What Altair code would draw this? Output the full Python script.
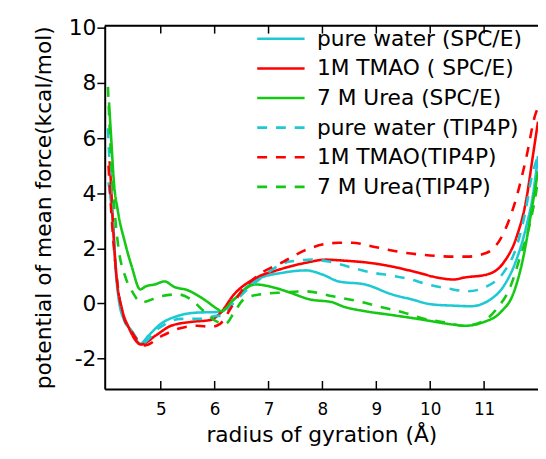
import altair as alt
import pandas as pd

series_names = [
    "pure water (SPC/E)",
    "1M TMAO ( SPC/E)",
    "7 M Urea (SPC/E)",
    "pure water (TIP4P)",
    "1M TMAO(TIP4P)",
    "7 M Urea(TIP4P)",
]
series_colors = ["#1FC9D3", "#FF0000", "#14C814", "#1FC9D3", "#FF0000", "#14C814"]
series_dashes = [[1, 0], [1, 0], [1, 0], [10, 9], [10, 9], [10, 9]]

# pure water (SPC/E)
pw_spce_x = [4.03, 4.07, 4.10, 4.13, 4.16, 4.22, 4.31, 4.46, 4.62, 4.77, 5.0, 5.32, 5.68, 6.05, 6.12,
             6.36, 6.78, 7.28, 7.7, 8.0, 8.3, 8.79, 9.29, 9.65, 10.02, 10.44, 10.75, 11.12, 11.36,
             11.6, 11.78, 11.91, 12.0]
pw_spce_y = [4.4, 3.8, 3.2, 2.5, 1.35, 0.15, -0.56, -0.99, -1.46, -1.17, -0.74, -0.45, -0.33, -0.31, -0.3,
             0.15, 0.87, 1.12, 1.2, 1.05, 0.8, 0.69, 0.33, 0.15, -0.03, -0.08, -0.1, 0.15, 0.62,
             1.59, 2.77, 3.98, 5.35]

# 1M TMAO (SPC/E)
tm_spce_x = [4.05, 4.08, 4.10, 4.14, 4.19, 4.28, 4.40, 4.64, 4.9, 5.19, 5.56, 5.92, 6.1, 6.36, 6.78,
             7.2, 7.7, 8.06, 8.43, 8.85, 9.29, 9.77, 10.13, 10.44, 10.63, 11.05, 11.36, 11.6, 11.78,
             11.91, 12.0]
tm_spce_y = [5.16, 4.2, 3.38, 1.95, 0.76, -0.2, -0.85, -1.49, -1.17, -0.81, -0.67, -0.6, -0.36, 0.33, 0.94,
             1.23, 1.48, 1.59, 1.55, 1.48, 1.34, 1.12, 0.94, 0.87, 0.94, 1.05, 1.48, 2.4, 3.74,
             5.42, 6.6]

# 7 M Urea (SPC/E)
ur_spce_x = [4.04, 4.08, 4.13, 4.2, 4.34, 4.46, 4.62, 4.72, 4.89, 5.07, 5.25, 5.5, 5.8, 6.05, 6.12,
             6.36, 6.75, 7.1, 7.39, 7.76, 8.19, 8.37, 8.79, 9.29, 9.77, 10.44, 10.63, 11.0, 11.31,
             11.55, 11.73, 11.88, 12.0]
ur_spce_y = [7.3, 6.0, 4.4, 3.4, 2.18, 1.35, 0.51, 0.62, 0.69, 0.8, 0.6, 0.48, 0.15, -0.2, -0.28,
             0.15, 0.69, 0.58, 0.4, 0.15, 0.04, -0.1, -0.28, -0.42, -0.56, -0.77, -0.81, -0.67, -0.31,
             0.4, 1.7, 3.37, 4.8]

# pure water (TIP4P)
pw_tip_x = [4.02, 4.04, 4.08, 4.12, 4.17, 4.24, 4.33, 4.48, 4.65, 4.95, 5.37, 5.74, 6.05, 6.12, 6.36,
            6.78, 7.39, 7.82, 8.12, 8.55, 8.92, 9.29, 9.65, 9.95, 10.32, 10.69, 11.05, 11.36, 11.6,
            11.76, 11.88, 12.0]
pw_tip_y = [6.36, 5.5, 4.0, 2.5, 1.2, 0.1, -0.6, -1.05, -1.45, -0.92, -0.56, -0.56, -0.45, -0.45, 0.04,
            0.8, 1.52, 1.59, 1.52, 1.3, 1.12, 1.01, 0.87, 0.69, 0.55, 0.44, 0.62, 1.12, 2.05,
            3.27, 4.56, 5.35]

# 1M TMAO (TIP4P)
tm_tip_x = [4.03, 4.06, 4.10, 4.15, 4.21, 4.30, 4.45, 4.71, 5.0, 5.32, 5.68, 5.92, 6.1, 6.29, 6.48,
            6.78, 7.28, 7.7, 8.06, 8.3, 8.55, 8.97, 9.4, 9.84, 10.44, 10.69, 11.05, 11.36, 11.6,
            11.78, 11.95, 12.0]
tm_tip_y = [5.0, 4.0, 2.8, 1.6, 0.5, -0.4, -1.0, -1.52, -1.2, -0.92, -0.81, -0.85, -0.74, -0.2, 0.4,
            0.98, 1.52, 1.95, 2.16, 2.2, 2.2, 2.05, 1.88, 1.77, 1.7, 1.7, 1.84, 2.55, 3.85,
            5.27, 6.85, 7.1]

# 7 M Urea (TIP4P)
ur_tip_x = [4.02, 4.06, 4.10, 4.16, 4.22, 4.34, 4.48, 4.64, 5.0, 5.32, 5.56, 5.8, 6.05, 6.2, 6.36,
            6.54, 6.84, 7.28, 7.7, 8.19, 8.67, 9.03, 9.47, 9.9, 10.32, 10.63, 11.0, 11.23, 11.49,
            11.67, 11.85, 11.97, 12.0]
ur_tip_y = [7.86, 6.0, 4.5, 3.0, 1.95, 0.98, 0.4, 0.04, 0.26, 0.33, 0.15, -0.28, -0.67, -0.74, -0.33,
            0.15, 0.33, 0.4, 0.44, 0.26, 0.08, -0.1, -0.31, -0.56, -0.7, -0.81, -0.63, -0.2, 0.62,
            1.7, 2.9, 4.1, 4.5]

x_ticks = [5, 6, 7, 8, 9, 10, 11]
y_ticks = [-2, 0, 2, 4, 6, 8, 10]

all_x = [pw_spce_x, tm_spce_x, ur_spce_x, pw_tip_x, tm_tip_x, ur_tip_x]
all_y = [pw_spce_y, tm_spce_y, ur_spce_y, pw_tip_y, tm_tip_y, ur_tip_y]

rows = []
for name, xs, ys in zip(series_names, all_x, all_y):
    for i, (a, b) in enumerate(zip(xs, ys)):
        rows.append({"series": name, "rg": a, "pmf": b, "i": i})
df = pd.DataFrame(rows)

W, H = 439, 368
x_dom = [3.96, 12.0]
y_dom = [-3.1, 10.08]
FONT = "DejaVu Sans"

x_scale = alt.Scale(domain=x_dom, nice=False, zero=False)
y_scale = alt.Scale(domain=y_dom, nice=False, zero=False)

x_axis = alt.Axis(values=x_ticks, title="radius of gyration (Å)", ticks=False,
                  labelFontSize=17, labelPadding=13, titleFontSize=22, titlePadding=7,
                  grid=False, domainWidth=2, domainColor="black", labelColor="black",
                  titleColor="black", titleFontWeight="normal")
y_axis = alt.Axis(values=y_ticks, title="potential of mean force(kcal/mol)", tickSize=8,
                  tickWidth=1.5, tickColor="black", labelFontSize=22, labelPadding=1,
                  labelExpr="toString(datum.value)",
                  titleFontSize=22, titlePadding=13, grid=False, domainWidth=2,
                  domainColor="black", labelColor="black", titleColor="black",
                  titleFontWeight="normal")

lines = alt.Chart(df).mark_line(strokeWidth=2.6, interpolate="monotone", clip=True).encode(
    x=alt.X("rg:Q", scale=x_scale, axis=x_axis),
    y=alt.Y("pmf:Q", scale=y_scale, axis=y_axis),
    color=alt.Color("series:N", scale=alt.Scale(domain=series_names, range=series_colors),
                    legend=alt.Legend(title=None)),
    strokeDash=alt.StrokeDash("series:N", scale=alt.Scale(domain=series_names, range=series_dashes),
                              legend=alt.Legend(title=None)),
    order="i:Q",
)

tick_df = pd.DataFrame({"rg": x_ticks})
bottom_ticks = alt.Chart(tick_df).mark_rule(color="black", strokeWidth=1.5).encode(
    x=alt.X("rg:Q", scale=x_scale, axis=x_axis),
    y=alt.value(H), y2=alt.value(H - 8),
)
top_ticks = alt.Chart(tick_df).mark_rule(color="black", strokeWidth=1.5).encode(
    x=alt.X("rg:Q", scale=x_scale, axis=x_axis),
    y=alt.value(0), y2=alt.value(8),
)
top_border = alt.Chart(pd.DataFrame({"a": [0]})).mark_rule(color="black", strokeWidth=2).encode(
    x=alt.value(0), x2=alt.value(W), y=alt.value(0),
)

chart = alt.layer(lines, bottom_ticks, top_ticks, top_border).properties(
    width=W, height=H,
    autosize=alt.AutoSizeParams(type="none"),
    padding={"left": 98, "top": 15, "right": 0, "bottom": 60},
).configure_view(stroke=None).configure(font=FONT).configure_legend(
    orient="none", legendX=153, legendY=-1.5, padding=0, rowPadding=0,
    symbolType="stroke", symbolSize=2304, symbolStrokeWidth=2.6, clipHeight=29.6,
    labelFontSize=22, labelOffset=11, labelLimit=400, labelColor="black", labelFont=FONT,
    symbolOffset=0,
)

chart.save("out.html", embed_options={"renderer": "svg", "actions": False})
